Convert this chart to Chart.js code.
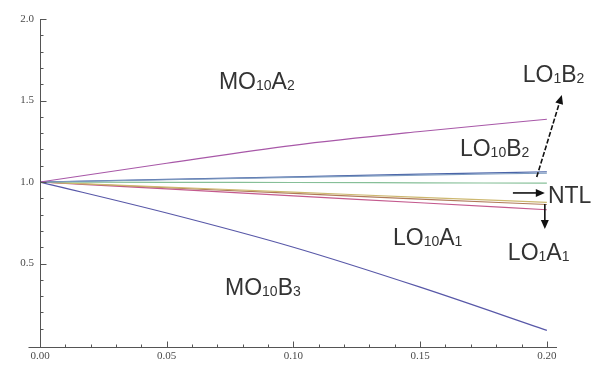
<!DOCTYPE html>
<html>
<head>
<meta charset="utf-8">
<script src="https://cdn.jsdelivr.net/npm/chart.js@4/dist/chart.umd.min.js"></script>
<style>
  html, body { margin: 0; padding: 0; background: #fff; }
  #wrap { width: 593px; height: 369px; position: relative; }
</style>
</head>
<body>
<div id="wrap"><canvas id="ratioChart"></canvas></div>
<script>
// values
const xValues = [0, 0.05, 0.10, 0.15, 0.20];
const mo10a2 = [1, 1.115, 1.225, 1.31, 1.385];
const lo10b2 = [1, 1.016, 1.032, 1.048, 1.063];
const lo1b2  = [1, 1.014, 1.028, 1.042, 1.055];
const ntl    = [1, 0.998, 0.997, 0.995, 0.993];
const lo10a1 = [1, 0.969, 0.938, 0.906, 0.875];
const lo1a1b = [1, 0.965, 0.930, 0.895, 0.862];
const lo1a1  = [1, 0.958, 0.915, 0.873, 0.830];
const mo10b3 = [1, 0.810, 0.600, 0.355, 0.09];

const xTickValues = [0, 0.05, 0.10, 0.15, 0.20];
const xTickLabels = ['0.00', '0.05', '0.10', '0.15', '0.20'];
const yTickValues = [0.5, 1.0, 1.5, 2.0];
const yTickLabels = ['0.5', '1.0', '1.5', '2.0'];

// text labels: [parts, x, y] in data units, parts = [text, isSubscript]
const curveLabels = [
    [[['MO', 0], ['10', 1], ['A', 0], ['2', 1]], 0.0706, 1.571],
    [[['LO', 0], ['1', 1], ['B', 0], ['2', 1]], 0.1905, 1.613],
    [[['LO', 0], ['10', 1], ['B', 0], ['2', 1]], 0.1657, 1.160],
    [[['NTL', 0]], 0.2004, 0.871],
    [[['LO', 0], ['10', 1], ['A', 0], ['1', 1]], 0.1393, 0.613],
    [[['LO', 0], ['1', 1], ['A', 0], ['1', 1]], 0.1846, 0.521],
    [[['MO', 0], ['10', 1], ['B', 0], ['3', 1]], 0.0730, 0.307],
];

// arrows: [x1, y1, x2, y2, dashed]
const arrows = [
    [0.1866, 0.933, 0.1992, 0.933, false],
    [0.1992, 0.865, 0.1992, 0.712, false],
    [0.1960, 1.031, 0.2059, 1.534, true],
];

function series(vals, color) {
    return {
        data: vals.map((v, i) => ({ x: xValues[i], y: v })),
        borderColor: color,
        borderWidth: 1.2,
        pointRadius: 0,
        cubicInterpolationMode: 'monotone',
        fill: false,
    };
}

const axesAndNotes = {
    id: 'axesAndNotes',
    afterDraw(chart) {
        const { ctx, chartArea: a, scales: { x, y } } = chart;
        ctx.save();
        ctx.strokeStyle = '#555';
        ctx.lineWidth = 1;
        const x0 = Math.round(x.getPixelForValue(0)) + 0.5;
        const yb = Math.round(a.bottom) + 0.5;
        ctx.beginPath();
        ctx.moveTo(x0, a.top);
        ctx.lineTo(x0, yb);
        ctx.moveTo(x0 - 12, yb);
        ctx.lineTo(a.right, yb);
        // inward ticks
        for (let i = 1; i <= 20; i++) {
            const py = Math.round(y.getPixelForValue(i / 10)) + 0.5;
            ctx.moveTo(x0, py);
            ctx.lineTo(x0 + (i % 5 === 0 ? 6 : 3), py);
            const px = Math.round(x.getPixelForValue(i / 100)) + 0.5;
            ctx.moveTo(px, yb);
            ctx.lineTo(px, yb - (i % 5 === 0 ? 6 : 3));
        }
        ctx.stroke();

        // curve names
        ctx.fillStyle = '#333';
        ctx.textBaseline = 'alphabetic';
        ctx.textAlign = 'left';
        curveLabels.forEach(([parts, lx, ly]) => {
            let cx = x.getPixelForValue(lx);
            const cy = y.getPixelForValue(ly);
            parts.forEach(([t, sub]) => {
                ctx.font = sub ? '14px "Liberation Sans", Arial' : '23px "Liberation Sans", Arial';
                ctx.fillText(t, cx, sub ? cy + 1 : cy);
                cx += ctx.measureText(t).width;
            });
        });

        // arrows
        ctx.strokeStyle = '#111';
        ctx.fillStyle = '#111';
        ctx.lineWidth = 1.6;
        arrows.forEach(([ax1, ay1, ax2, ay2, dashed]) => {
            const p1 = [x.getPixelForValue(ax1), y.getPixelForValue(ay1)];
            const p2 = [x.getPixelForValue(ax2), y.getPixelForValue(ay2)];
            const ang = Math.atan2(p2[1] - p1[1], p2[0] - p1[0]);
            ctx.setLineDash(dashed ? [5, 2] : []);
            ctx.beginPath();
            ctx.moveTo(p1[0], p1[1]);
            ctx.lineTo(p2[0] - 6 * Math.cos(ang), p2[1] - 6 * Math.sin(ang));
            ctx.stroke();
            ctx.setLineDash([]);
            ctx.beginPath();
            ctx.moveTo(p2[0], p2[1]);
            ctx.lineTo(p2[0] - 9 * Math.cos(ang) + 4 * Math.sin(ang), p2[1] - 9 * Math.sin(ang) - 4 * Math.cos(ang));
            ctx.lineTo(p2[0] - 9 * Math.cos(ang) - 4 * Math.sin(ang), p2[1] - 9 * Math.sin(ang) + 4 * Math.cos(ang));
            ctx.closePath();
            ctx.fill();
        });
        ctx.restore();
    }
};

function drawChart() {
    const ctx = document.getElementById('ratioChart').getContext('2d');

    new Chart(ctx, {
        type: 'line',
        data: {
            datasets: [
                series(mo10a2, '#a858a8'),
                series(lo1b2, '#7f9cc0'),
                series(lo10b2, '#4a64a8'),
                series(ntl, '#86bf98'),
                series(lo10a1, '#cdb870'),
                series(lo1a1b, '#b07a5a'),
                series(lo1a1, '#c45a8e'),
                series(mo10b3, '#5858a8'),
            ],
        },
        options: {
            responsive: true,
            maintainAspectRatio: false,
            animation: false,
            layout: { padding: { top: 19, right: 36, left: 0, bottom: 0 } },
            plugins: { legend: { display: false }, tooltip: { enabled: false } },
            scales: {
                x: {
                    type: 'linear',
                    min: 0,
                    max: 0.204,
                    afterBuildTicks: (s) => { s.ticks = xTickValues.map(v => ({ value: v })); },
                    afterFit: (s) => { s.height = 22; },
                    grid: { display: false, drawTicks: false },
                    border: { display: false },
                    ticks: {
                        padding: 3,
                        maxRotation: 0,
                        color: '#4a4a4a',
                        font: { family: '"Liberation Serif", serif', size: 11 },
                        callback: (v, i) => xTickLabels[i],
                    },
                },
                y: {
                    min: -0.012,
                    max: 2.0,
                    afterBuildTicks: (s) => { s.ticks = yTickValues.map(v => ({ value: v })); },
                    afterFit: (s) => { s.width = 40; },
                    grid: { display: false, drawTicks: false },
                    border: { display: false },
                    ticks: {
                        padding: 6,
                        color: '#4a4a4a',
                        font: { family: '"Liberation Serif", serif', size: 11 },
                        callback: (v, i) => yTickLabels[i],
                    },
                },
            },
        },
        plugins: [axesAndNotes],
    });
}

drawChart();
</script>
</body>
</html>
